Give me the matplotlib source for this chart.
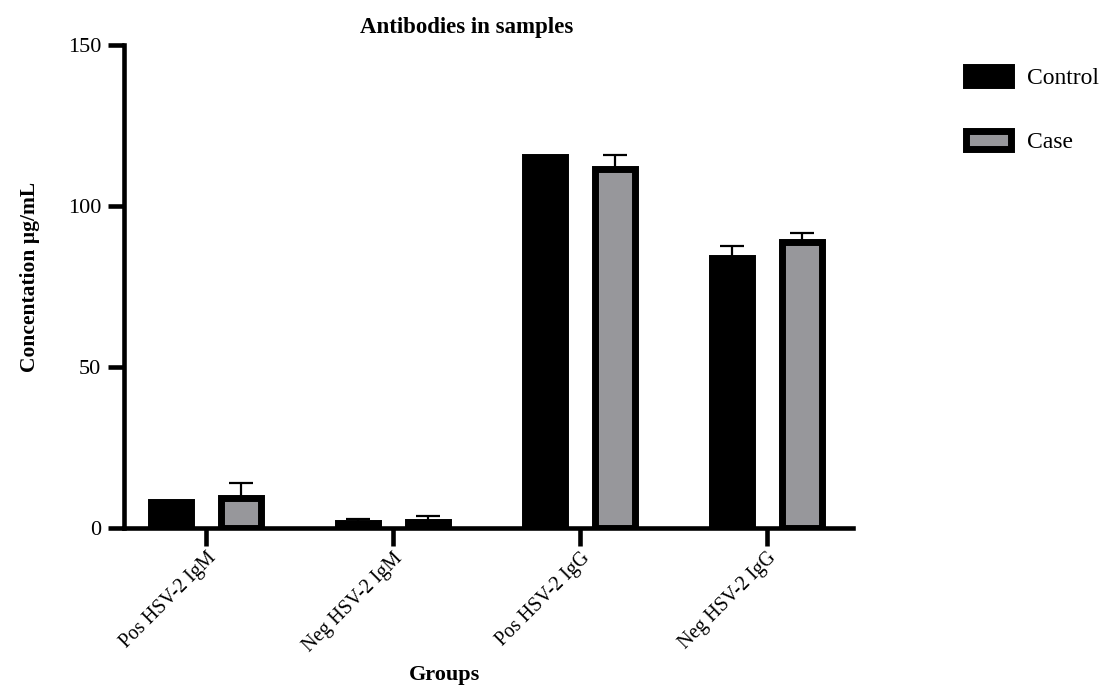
import numpy as np
import matplotlib
matplotlib.use("Agg")
import matplotlib.pyplot as plt

groups = ["Pos HSV-2 IgM", "Neg HSV-2 IgM", "Pos HSV-2 IgG", "Neg HSV-2 IgG"]
control = [8.2, 1.7, 115.1, 83.7]
control_err = [0.0, 1.2, 0.0, 3.9]
case = [9.2, 1.8, 111.6, 88.7]
case_err = [4.8, 1.9, 4.2, 2.9]

plt.rcParams['font.family'] = ['Liberation Serif', 'DejaVu Serif']
fs = 16

fig = plt.figure(figsize=(11.04, 6.89), dpi=100)
ax = fig.add_axes([124 / 1104, 1 - 528 / 689, (853 - 124) / 1104, (528 - 45) / 689])

x = np.arange(len(groups))
w = 0.214
off = 0.187
gray = '#97979b'
lw = 5

ax.bar(x - off, control, w, color='black', edgecolor='black', linewidth=lw, label='Control', zorder=3)
ax.bar(x + off, case, w, color=gray, edgecolor='black', linewidth=lw, label='Case', zorder=3)

ax.errorbar(x - off, control, yerr=[np.zeros(4), control_err], fmt='none', ecolor='black',
            elinewidth=1.6, capsize=8.3, capthick=1.6, zorder=2)
ax.errorbar(x + off, case, yerr=[np.zeros(4), case_err], fmt='none', ecolor='black',
            elinewidth=1.6, capsize=8.3, capthick=1.6, zorder=2)

ax.set_xlim(-0.44, 3.46)
ax.set_ylim(0, 150)
ax.set_yticks([0, 50, 100, 150])
ax.set_xticks(x)
ax.set_xticklabels(groups, rotation=45, ha='right', va='top', rotation_mode='anchor', fontsize=14.3)

for s in ['top', 'right']:
    ax.spines[s].set_visible(False)
for s in ['left', 'bottom']:
    ax.spines[s].set_linewidth(3.3)
ax.spines['bottom'].set_zorder(4)
ax.tick_params(axis='y', length=11.5, width=3.3, pad=5, labelsize=fs)
ax.tick_params(axis='x', length=13, width=3.3, pad=2)

fig.text(467 / 1104, 1 - 27 / 689, 'Antibodies in samples', ha='center', va='center',
         fontsize=16.5, fontweight='bold')
fig.text(445 / 1104, 1 - 675 / 689, 'Groups', ha='center', va='center',
         fontsize=16, fontweight='bold')
fig.text(30 / 1104, 1 - 277 / 689, 'Concentation µg/mL', ha='center', va='center',
         rotation=90, fontsize=15.5, fontweight='bold')

fig.legend(loc='upper left', bbox_to_anchor=(945 / 1104, 1 - 46 / 689), frameon=False,
           fontsize=17, handlelength=1.9, handleheight=0.8, handletextpad=0.66,
           labelspacing=1.75)

fig.savefig('out.png', dpi=100)
